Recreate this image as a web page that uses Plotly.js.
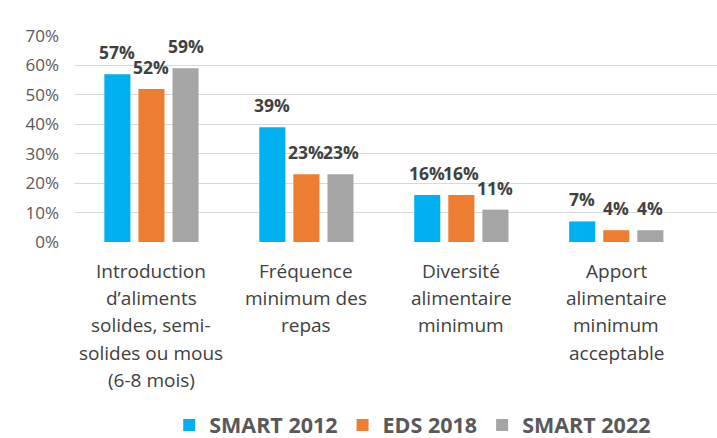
<!DOCTYPE html>
<html>
<head>
<meta charset="utf-8">
<script src="https://cdn.plot.ly/plotly-3.0.1.min.js"></script>
<style>
  body { margin: 0; background: #fff; }
  #chart { width: 717px; height: 438px; }
</style>
</head>
<body>
<div id="chart"></div>
<script>
// Category labels, one array of lines per group
const categories = [
    ['Introduction', 'd’aliments', 'solides, semi-', 'solides ou mous', '(6-8 mois)'],
    ['Fréquence', 'minimum des', 'repas'],
    ['Diversité', 'alimentaire', 'minimum'],
    ['Apport', 'alimentaire', 'minimum', 'acceptable']
];

const seriesNames = ['SMART 2012', 'EDS 2018', 'SMART 2022'];
const smart2012 = [57, 39, 16, 7];
const eds2018 = [52, 23, 16, 4];
const smart2022 = [59, 23, 11, 4];
const seriesColors = ['#00B0F0', '#ED7D31', '#A5A5A5'];

const yTicks = [0, 10, 20, 30, 40, 50, 60, 70];

document.addEventListener('DOMContentLoaded', function() {
    const font = '"Open Sans", "Liberation Sans", sans-serif';
    const bargap = 0.34;
    const slot = (1 - bargap) / 3;   // width of one bar slot, in x units
    const positions = categories.map((c, i) => i);
    const allSeries = [smart2012, eds2018, smart2022];

    const traces = allSeries.map((vals, j) => ({
        type: 'bar',
        name: seriesNames[j],
        x: positions,
        y: vals,
        marker: { color: seriesColors[j], line: { width: 0 } },
        hoverinfo: 'skip'
    }));

    const annotations = [];

    // value labels above bars
    allSeries.forEach((vals, j) => {
        vals.forEach((v, i) => {
            annotations.push({
                x: i + (j - 1) * slot,
                y: v,
                xref: 'x', yref: 'y',
                text: v + '%',
                showarrow: false,
                yanchor: 'middle',
                yshift: 22,
                font: { family: font, size: 17.5, color: '#404040', weight: 'bold' }
            });
        });
    });

    // category labels under the axis, line by line
    categories.forEach((lines, i) => {
        lines.forEach((line, k) => {
            annotations.push({
                x: i,
                y: 0,
                xref: 'x', yref: 'paper',
                text: line,
                showarrow: false,
                yanchor: 'middle',
                yshift: -29 - 27.2 * k,
                font: { family: font, size: 19, color: '#404040' }
            });
        });
    });

    const layout = {
        width: 717,
        height: 438,
        margin: { l: 74, r: 0, t: 36, b: 196, autoexpand: false },
        paper_bgcolor: '#ffffff',
        plot_bgcolor: '#ffffff',
        barmode: 'group',
        bargap: bargap,
        bargroupgap: 0.235,
        font: { family: font },
        xaxis: {
            range: [-0.5, 3.65],
            showticklabels: false,
            showgrid: false,
            zeroline: false,
            showline: false,
            ticks: ''
        },
        yaxis: {
            range: [0, 70],
            tickvals: yTicks,
            ticktext: yTicks.map(t => t + '%'),
            tickfont: { family: font, size: 17, color: '#595959' },
            gridcolor: '#D9D9D9',
            gridwidth: 1,
            zeroline: false,
            showline: false,
            ticks: '',
            ticklabelstandoff: 14
        },
        showlegend: true,
        legend: {
            orientation: 'h',
            xref: 'container',
            yref: 'container',
            x: 0.236,
            xanchor: 'left',
            y: 1 - 425 / 438,
            yanchor: 'middle',
            font: { family: font, size: 21.5, color: '#595959', weight: 'bold' },
            traceorder: 'normal'
        },
        annotations: annotations
    };

    Plotly.newPlot('chart', traces, layout, { displayModeBar: false, staticPlot: true });
});
</script>
</body>
</html>
